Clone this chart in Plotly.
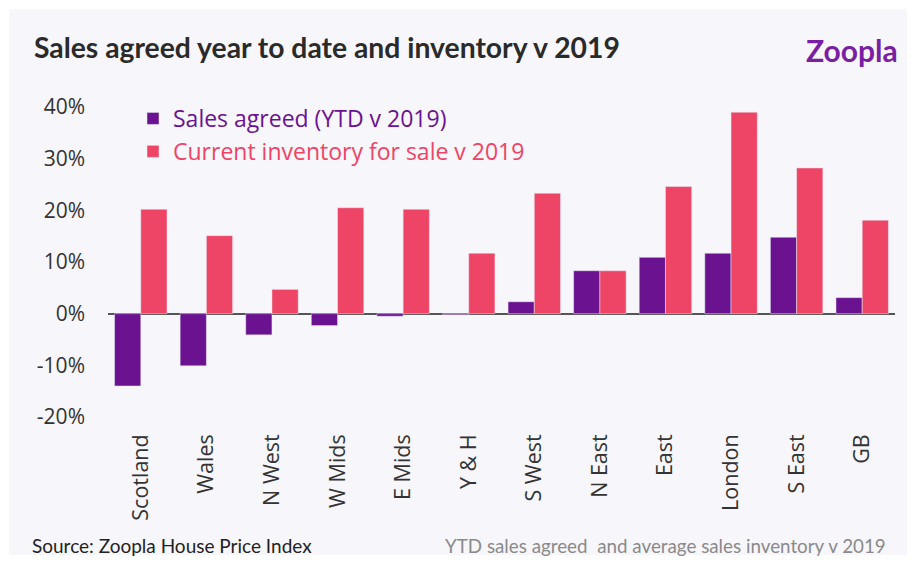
import plotly.graph_objects as go

regions = ["Scotland", "Wales", "N West", "W Mids", "E Mids", "Y & H", "S West",
           "N East", "East", "London", "S East", "GB"]
sales_agreed = [-14.0, -10.1, -4.1, -2.3, -0.5, -0.2, 2.3, 8.3, 10.9, 11.7, 14.8, 3.1]
inventory = [20.2, 15.1, 4.7, 20.5, 20.2, 11.7, 23.3, 8.3, 24.6, 39.0, 28.2, 18.1]
y_ticks = [-20, -10, 0, 10, 20, 30, 40]
y_tick_labels = ["-20%", "-10%", "0%", "10%", "20%", "30%", "40%"]

PURPLE = "#6a1290"
PINK = "#ee4466"

W, H = 924, 563
L, R, T, B = 108, 29, 107, 146
pw, ph = W - L - R, H - T - B

def px_x(p):
    return (p - L) / pw

def px_y(p):
    return (H - B - p) / ph

fig = go.Figure()
fig.add_bar(x=regions, y=sales_agreed, marker_color=PURPLE, legendgroup="a",
            name=f'<span style="color:{PURPLE}">Sales agreed (YTD v 2019)</span>')
fig.add_bar(x=regions, y=inventory, marker_color=PINK, legendgroup="b",
            name=f'<span style="color:{PINK}">Current inventory for sale v 2019</span>')

fig.update_layout(
    width=W, height=H,
    margin=dict(l=L, r=R, t=T, b=B, pad=0),
    paper_bgcolor="white",
    plot_bgcolor="rgba(0,0,0,0)",
    barmode="group",
    bargap=0.2,
    bargroupgap=0,
    showlegend=True,
    legend=dict(x=px_x(133), y=px_y(97), xanchor="left", yanchor="top",
                bgcolor="rgba(0,0,0,0)", font=dict(family="Open Sans", size=23),
                tracegroupgap=0, itemwidth=30),
    font=dict(family="Open Sans", color="#333333"),
    shapes=[dict(type="rect", xref="paper", yref="paper",
                 x0=px_x(9), x1=px_x(907), y0=px_y(555), y1=px_y(9),
                 fillcolor="#f7f6fa", line=dict(width=0), layer="below")],
)

fig.update_yaxes(range=[-20, 40], tickvals=y_ticks, ticktext=y_tick_labels,
                 showgrid=False, zeroline=True, zerolinecolor="#555555", zerolinewidth=1.5,
                 showline=False, ticks="", ticklabelstandoff=22,
                 tickfont=dict(family="Open Sans", size=21, color="#333333"))
fig.update_xaxes(showgrid=False, showline=False, ticks="", tickangle=-90,
                 ticklabelstandoff=12,
                 tickfont=dict(family="Open Sans", size=21.5, color="#333333"))

annotations = [
    dict(text="Sales agreed year to date and inventory v 2019", x=px_x(32), y=px_y(47),
         xanchor="left", yanchor="middle",
         font=dict(family="Lato", size=28.3, color="#2a2a2a", weight="bold")),
    dict(text="Zoopla", x=px_x(900), y=px_y(50), xanchor="right", yanchor="middle",
         font=dict(family="Lato", size=30, color="#7a1fa2", weight="bold")),
    dict(text="Source: Zoopla House Price Index", x=px_x(30), y=px_y(545),
         xanchor="left", yanchor="middle",
         font=dict(family="Lato", size=19, color="#222222")),
    dict(text="YTD sales agreed  and average sales inventory v 2019", x=px_x(888), y=px_y(545),
         xanchor="right", yanchor="middle",
         font=dict(family="Lato", size=18.8, color="#8a8a8a")),
]
for a in annotations:
    a.update(xref="paper", yref="paper", showarrow=False)
fig.update_layout(annotations=annotations)

fig.write_html("out.html", config={"displayModeBar": False},
               post_script="document.body.style.margin='0';")
